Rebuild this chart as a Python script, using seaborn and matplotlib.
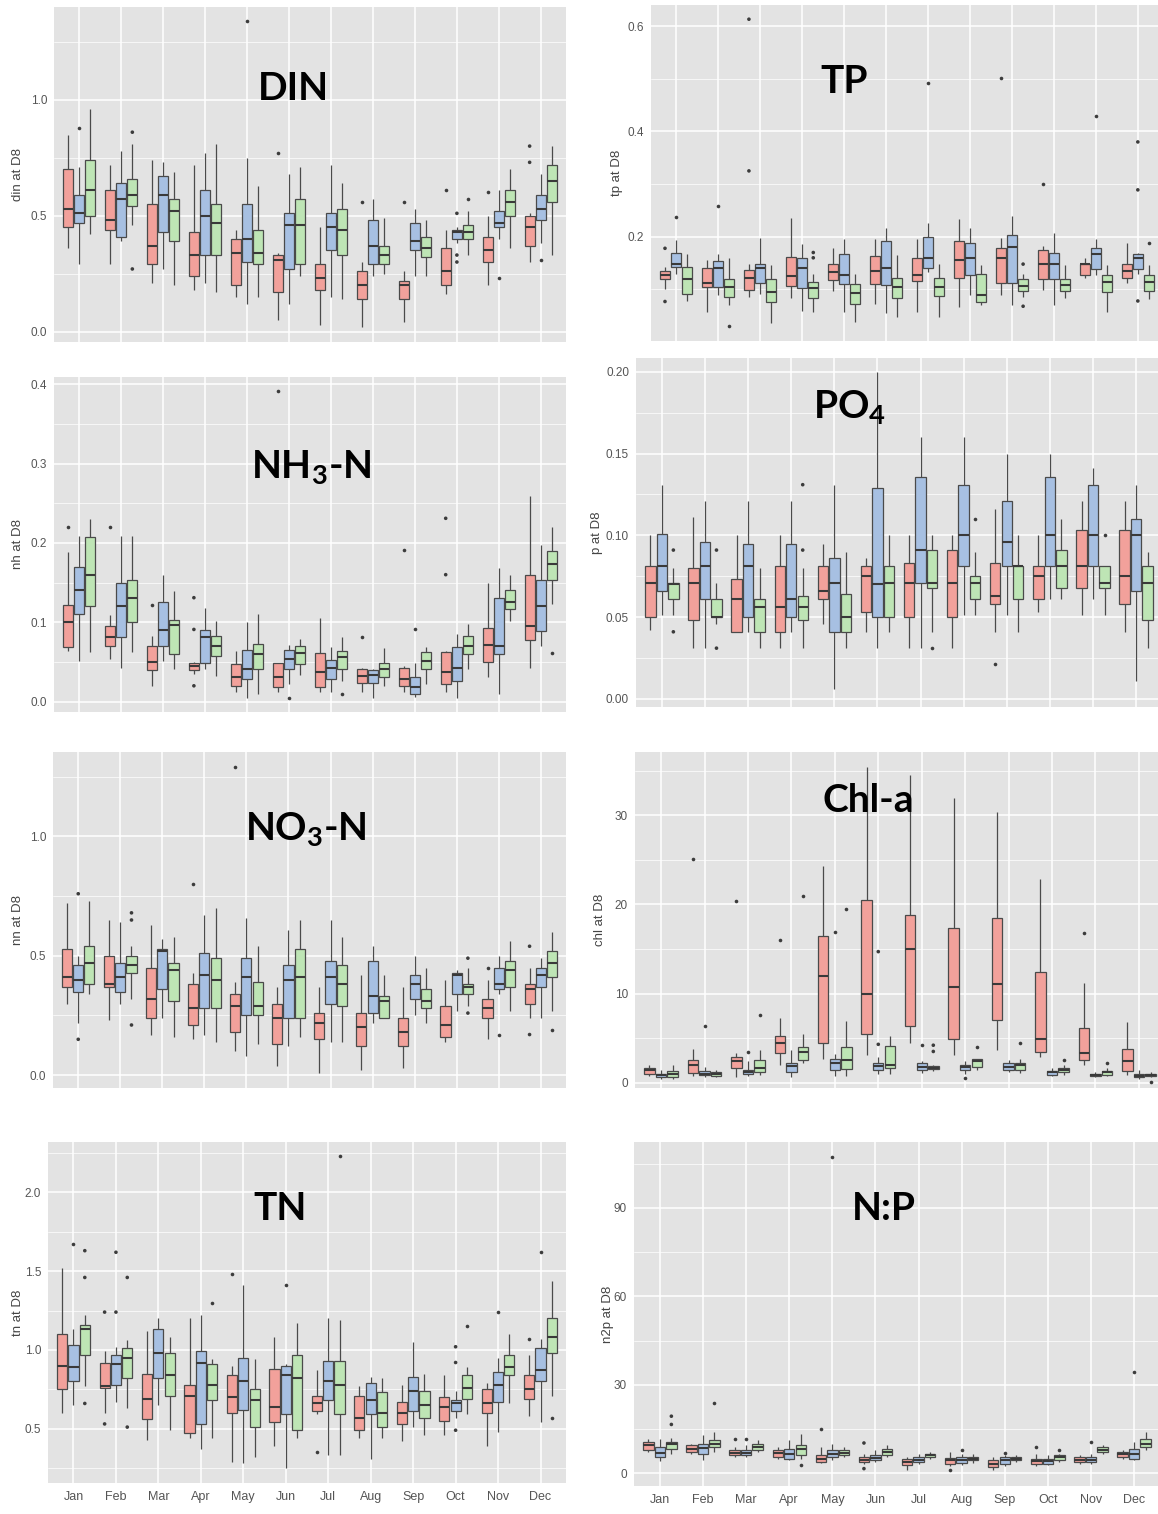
import matplotlib
matplotlib.use("Agg")
import matplotlib.pyplot as plt
import numpy as np
import pandas as pd
import seaborn as sns
from matplotlib.ticker import FixedLocator, MultipleLocator

# ---------------- data ----------------
MONTHS = ["Jan", "Feb", "Mar", "Apr", "May", "Jun", "Jul", "Aug", "Sep", "Oct", "Nov", "Dec"]
GROUPS = ["G1", "G2", "G3"]
# each box: (lower whisker, Q1, median, Q3, upper whisker)

DIN_R = [(0.36,0.45,0.53,0.70,0.85),(0.29,0.44,0.48,0.61,0.72),(0.21,0.29,0.37,0.55,0.74),(0.18,0.24,0.33,0.43,0.72),
         (0.15,0.20,0.34,0.40,0.44),(0.05,0.17,0.31,0.33,0.34),(0.03,0.18,0.23,0.29,0.45),(0.02,0.14,0.20,0.26,0.30),
         (0.04,0.14,0.20,0.22,0.26),(0.16,0.20,0.26,0.36,0.44),(0.20,0.30,0.35,0.41,0.50),(0.30,0.37,0.45,0.50,0.51)]
DIN_B = [(0.29,0.47,0.51,0.59,0.71),(0.39,0.41,0.57,0.64,0.78),(0.27,0.43,0.59,0.67,0.73),(0.21,0.33,0.50,0.61,0.77),
         (0.12,0.30,0.40,0.55,0.75),(0.12,0.27,0.46,0.51,0.68),(0.15,0.35,0.45,0.51,0.72),(0.24,0.29,0.37,0.48,0.57),
         (0.24,0.35,0.39,0.47,0.53),(0.38,0.40,0.43,0.44,0.45),(0.40,0.45,0.47,0.52,0.61),(0.38,0.48,0.53,0.59,0.68)]
DIN_G = [(0.42,0.50,0.61,0.74,0.96),(0.46,0.54,0.59,0.66,0.81),(0.20,0.39,0.52,0.57,0.69),(0.17,0.33,0.47,0.55,0.81),
         (0.15,0.29,0.34,0.44,0.63),(0.24,0.29,0.46,0.57,0.71),(0.14,0.33,0.44,0.53,0.64),(0.25,0.29,0.33,0.37,0.49),
         (0.24,0.32,0.36,0.41,0.48),(0.33,0.40,0.43,0.46,0.52),(0.36,0.50,0.56,0.61,0.70),(0.33,0.56,0.65,0.72,0.80)]
DIN_OUT = [("Jan","G2",0.88),("Feb","G3",0.86),("Feb","G3",0.27),("May","G2",1.34),("Jun","G1",0.77),
           ("Aug","G1",0.56),("Sep","G1",0.56),("Oct","G1",0.61),("Oct","G2",0.51),("Oct","G2",0.33),
           ("Oct","G2",0.30),("Oct","G3",0.57),("Nov","G1",0.60),("Nov","G2",0.23),("Dec","G1",0.80),
           ("Dec","G1",0.73),("Dec","G2",0.31)]

TP_R = [(0.100,0.119,0.128,0.135,0.143),(0.057,0.105,0.112,0.140,0.156),(0.086,0.098,0.121,0.137,0.149),
        (0.084,0.107,0.126,0.162,0.236),(0.097,0.117,0.133,0.148,0.178),(0.073,0.111,0.135,0.164,0.196),
        (0.057,0.116,0.128,0.159,0.196),(0.067,0.122,0.156,0.192,0.234),(0.089,0.112,0.159,0.179,0.197),
        (0.098,0.119,0.149,0.175,0.182),(0.121,0.127,0.148,0.149,0.159),(0.113,0.121,0.135,0.149,0.189)]
TP_B = [(0.130,0.143,0.148,0.170,0.194),(0.089,0.105,0.140,0.154,0.167),(0.092,0.112,0.140,0.148,0.197),
        (0.059,0.103,0.140,0.159,0.186),(0.057,0.111,0.128,0.168,0.196),(0.055,0.108,0.140,0.192,0.216),
        (0.133,0.140,0.159,0.200,0.227),(0.089,0.128,0.159,0.189,0.216),(0.070,0.112,0.181,0.204,0.239),
        (0.070,0.119,0.149,0.170,0.208),(0.127,0.138,0.167,0.178,0.196),(0.130,0.138,0.159,0.167,0.170)]
TP_G = [(0.078,0.092,0.119,0.143,0.168),(0.070,0.086,0.105,0.119,0.159),(0.037,0.077,0.095,0.119,0.146),
        (0.058,0.083,0.102,0.114,0.130),(0.038,0.073,0.094,0.111,0.130),(0.048,0.084,0.105,0.121,0.165),
        (0.048,0.087,0.105,0.121,0.148),(0.070,0.077,0.089,0.129,0.146),(0.086,0.097,0.107,0.119,0.130),
        (0.083,0.097,0.108,0.119,0.146),(0.057,0.095,0.114,0.127,0.146),(0.081,0.097,0.114,0.128,0.146)]
TP_OUT = [("Jan","G1",0.178),("Jan","G1",0.077),("Jan","G2",0.238),("Feb","G2",0.259),("Feb","G3",0.031),
          ("Mar","G1",0.613),("Mar","G1",0.325),("Apr","G3",0.170),("Apr","G3",0.160),("Jul","G2",0.491),
          ("Sep","G1",0.502),("Sep","G3",0.148),("Sep","G3",0.068),("Oct","G1",0.300),("Nov","G2",0.430),
          ("Dec","G2",0.380),("Dec","G2",0.289),("Dec","G2",0.078),("Dec","G3",0.189)]

NH_R = [(0.064,0.069,0.100,0.122,0.188),(0.054,0.070,0.082,0.095,0.109),(0.020,0.040,0.050,0.070,0.083),
        (0.035,0.040,0.045,0.049,0.050),(0.012,0.020,0.031,0.048,0.064),(0.012,0.019,0.031,0.049,0.049),
        (0.012,0.019,0.037,0.061,0.106),(0.012,0.023,0.032,0.041,0.042),(0.012,0.020,0.028,0.042,0.045),
        (0.012,0.022,0.037,0.063,0.064),(0.031,0.050,0.071,0.093,0.149),(0.042,0.078,0.095,0.159,0.259)]
NH_B = [(0.051,0.110,0.141,0.170,0.209),(0.042,0.081,0.120,0.149,0.209),(0.051,0.070,0.090,0.126,0.159),
        (0.041,0.049,0.082,0.090,0.118),(0.005,0.028,0.041,0.065,0.100),(0.022,0.041,0.054,0.065,0.072),
        (0.012,0.028,0.043,0.052,0.069),(0.005,0.023,0.033,0.040,0.041),(0.006,0.010,0.018,0.031,0.049),
        (0.005,0.026,0.042,0.069,0.085),(0.010,0.060,0.070,0.131,0.169),(0.070,0.089,0.120,0.153,0.198)]
NH_G = [(0.062,0.120,0.160,0.208,0.230),(0.062,0.100,0.131,0.153,0.209),(0.041,0.060,0.097,0.103,0.139),
        (0.032,0.058,0.070,0.083,0.102),(0.010,0.041,0.060,0.073,0.110),(0.033,0.048,0.061,0.070,0.079),
        (0.026,0.041,0.056,0.064,0.081),(0.020,0.031,0.041,0.049,0.068),(0.022,0.041,0.051,0.062,0.069),
        (0.041,0.060,0.070,0.083,0.098),(0.102,0.117,0.126,0.141,0.159),(0.123,0.153,0.174,0.190,0.220)]
NH_OUT = [("Jan","G1",0.220),("Feb","G1",0.220),("Mar","G1",0.122),("Apr","G1",0.131),("Apr","G1",0.091),
          ("Apr","G1",0.020),("Jun","G1",0.391),("Jun","G2",0.005),("Jul","G3",0.010),("Aug","G1",0.081),
          ("Sep","G1",0.191),("Sep","G2",0.091),("Oct","G1",0.231),("Oct","G1",0.160),("Dec","G3",0.061)]

P_R = [(0.042,0.050,0.071,0.081,0.100),(0.031,0.048,0.071,0.080,0.111),(0.041,0.041,0.061,0.073,0.100),
       (0.031,0.041,0.056,0.081,0.100),(0.046,0.061,0.066,0.081,0.095),(0.041,0.053,0.075,0.081,0.086),
       (0.031,0.050,0.071,0.083,0.100),(0.031,0.050,0.071,0.091,0.100),(0.041,0.058,0.063,0.083,0.116),
       (0.053,0.061,0.075,0.081,0.100),(0.051,0.068,0.081,0.103,0.121),(0.041,0.058,0.075,0.103,0.121)]
P_B = [(0.051,0.066,0.081,0.101,0.131),(0.031,0.061,0.081,0.096,0.121),(0.041,0.050,0.081,0.095,0.121),
       (0.041,0.050,0.061,0.095,0.121),(0.006,0.041,0.071,0.086,0.131),(0.031,0.050,0.070,0.129,0.200),
       (0.031,0.071,0.091,0.136,0.160),(0.051,0.081,0.100,0.131,0.160),(0.051,0.081,0.096,0.121,0.150),
       (0.061,0.081,0.100,0.136,0.150),(0.061,0.081,0.100,0.131,0.141),(0.011,0.066,0.100,0.110,0.131)]
P_G = [(0.051,0.061,0.070,0.071,0.080),(0.046,0.050,0.050,0.061,0.071),(0.031,0.041,0.056,0.061,0.080),
       (0.031,0.048,0.056,0.063,0.080),(0.031,0.041,0.050,0.064,0.090),(0.041,0.050,0.071,0.081,0.100),
       (0.041,0.068,0.071,0.091,0.100),(0.051,0.061,0.071,0.075,0.090),(0.041,0.061,0.081,0.081,0.100),
       (0.061,0.068,0.081,0.091,0.110),(0.051,0.068,0.071,0.081,0.081),(0.031,0.048,0.071,0.081,0.090)]
P_OUT = [("Jan","G3",0.091),("Jan","G3",0.041),("Feb","G3",0.091),("Feb","G3",0.031),("Apr","G3",0.131),
         ("Apr","G3",0.091),("Jul","G3",0.031),("Aug","G3",0.110),("Sep","G1",0.021),("Nov","G3",0.100)]

N_R = [(0.30,0.37,0.41,0.53,0.72),(0.23,0.37,0.38,0.50,0.65),(0.17,0.24,0.32,0.45,0.63),(0.15,0.21,0.28,0.38,0.43),
       (0.10,0.18,0.29,0.34,0.39),(0.04,0.13,0.24,0.30,0.37),(0.01,0.15,0.22,0.26,0.37),(0.02,0.12,0.20,0.26,0.42),
       (0.03,0.12,0.18,0.24,0.37),(0.14,0.16,0.21,0.29,0.40),(0.15,0.24,0.28,0.32,0.40),(0.24,0.30,0.36,0.38,0.45)]
N_B = [(0.22,0.35,0.40,0.46,0.50),(0.30,0.35,0.41,0.47,0.64),(0.24,0.36,0.52,0.53,0.57),(0.17,0.28,0.42,0.51,0.67),
       (0.08,0.25,0.41,0.49,0.66),(0.12,0.24,0.40,0.46,0.61),(0.14,0.30,0.41,0.48,0.65),(0.22,0.26,0.33,0.48,0.54),
       (0.25,0.32,0.38,0.42,0.50),(0.27,0.34,0.42,0.43,0.44),(0.34,0.36,0.38,0.45,0.50),(0.24,0.37,0.42,0.45,0.49)]
N_G = [(0.34,0.38,0.47,0.54,0.73),(0.32,0.43,0.46,0.50,0.54),(0.16,0.31,0.44,0.47,0.58),(0.14,0.28,0.40,0.49,0.70),
       (0.13,0.25,0.29,0.39,0.54),(0.16,0.24,0.41,0.53,0.65),(0.14,0.29,0.38,0.46,0.58),(0.24,0.24,0.31,0.33,0.42),
       (0.22,0.28,0.31,0.36,0.45),(0.29,0.34,0.37,0.38,0.45),(0.27,0.37,0.44,0.48,0.56),(0.27,0.41,0.47,0.52,0.60)]
N_OUT = [("Jan","G2",0.76),("Jan","G2",0.15),("Feb","G3",0.68),("Feb","G3",0.65),("Feb","G3",0.21),
         ("Apr","G1",0.80),("May","G1",1.29),("Oct","G3",0.49),("Oct","G3",0.26),("Nov","G1",0.45),
         ("Nov","G2",0.17),("Dec","G1",0.54),("Dec","G1",0.17),("Dec","G3",0.19)]

C_R = [(0.7,1.0,1.4,1.7,2.0),(0.7,1.1,2.0,2.5,3.8),(0.6,1.6,2.4,2.9,3.3),(2.0,3.3,4.4,5.2,7.2),
       (2.6,4.4,12.0,16.5,24.3),(3.1,5.5,9.9,20.5,35.4),(4.4,6.4,15.0,18.8,34.5),(3.1,4.9,10.7,17.4,31.9),
       (3.7,7.0,11.1,18.5,30.4),(2.9,3.4,4.9,12.4,22.8),(2.0,2.5,3.3,6.1,11.2),(0.9,1.3,2.4,3.8,6.8)]
C_B = [(0.4,0.6,0.9,1.0,1.4),(0.6,0.9,1.0,1.3,1.8),(0.7,1.0,1.2,1.4,2.4),(0.6,1.2,1.9,2.2,3.7),
       (0.7,1.4,2.2,2.7,3.2),(1.0,1.4,1.9,2.2,2.9),(1.1,1.4,1.8,2.2,2.4),(1.0,1.4,1.8,2.0,2.4),
       (1.2,1.4,1.8,2.2,2.5),(0.7,0.9,1.2,1.3,1.6),(0.6,0.8,0.9,1.0,1.2),(0.4,0.6,0.8,1.0,1.4)]
C_G = [(0.4,0.6,1.0,1.3,2.0),(0.6,0.7,1.0,1.2,1.4),(0.9,1.2,1.6,2.5,3.7),(2.2,2.5,3.4,4.0,5.5),
       (0.7,1.5,2.5,4.0,6.9),(1.0,1.6,2.0,4.1,5.2),(1.3,1.5,1.7,1.9,2.0),(1.4,1.8,2.4,2.6,2.7),
       (1.1,1.4,2.0,2.2,2.7),(0.9,1.2,1.4,1.6,2.0),(0.7,0.9,1.2,1.3,1.6),(0.6,0.7,0.9,1.0,1.2)]
C_OUT = [("Feb","G1",25.1),("Feb","G2",6.4),("Mar","G1",20.4),("Mar","G2",3.4),("Mar","G3",7.6),
         ("Apr","G1",16.0),("Apr","G3",20.9),("May","G2",16.9),("May","G3",19.5),("Jun","G2",14.7),
         ("Jun","G2",4.3),("Jul","G2",4.2),("Jul","G3",4.2),("Jul","G3",3.5),("Aug","G2",0.5),
         ("Aug","G3",4.0),("Sep","G3",4.4),("Oct","G3",2.5),("Nov","G1",16.8),("Nov","G3",2.2),("Dec","G3",0.1)]

T_R = [(0.60,0.75,0.90,1.10,1.52),(0.60,0.76,0.77,0.92,0.99),(0.43,0.56,0.69,0.85,1.12),(0.44,0.47,0.71,0.78,1.20),
       (0.29,0.60,0.70,0.84,0.90),(0.39,0.54,0.64,0.88,1.08),(0.59,0.61,0.66,0.71,0.87),(0.44,0.49,0.57,0.71,0.77),
       (0.42,0.53,0.60,0.67,0.78),(0.46,0.55,0.64,0.70,0.84),(0.39,0.60,0.66,0.75,0.79),(0.58,0.69,0.75,0.84,0.97)]
T_B = [(0.65,0.80,0.89,1.03,1.13),(0.67,0.78,0.91,0.97,1.02),(0.65,0.82,0.98,1.13,1.20),(0.37,0.53,0.92,0.99,1.22),
       (0.28,0.62,0.80,0.95,1.41),(0.25,0.59,0.84,0.90,0.91),(0.33,0.68,0.80,0.93,1.20),(0.31,0.59,0.68,0.79,0.83),
       (0.51,0.61,0.74,0.83,1.05),(0.57,0.61,0.66,0.68,0.74),(0.48,0.67,0.78,0.86,0.95),(0.54,0.80,0.87,1.01,1.07)]
T_G = [(0.77,0.97,1.13,1.16,1.22),(0.63,0.82,0.95,1.01,1.06),(0.49,0.71,0.84,0.98,1.08),(0.44,0.68,0.78,0.91,0.94),
       (0.32,0.51,0.68,0.75,0.94),(0.44,0.49,0.82,0.97,1.17),(0.33,0.59,0.78,0.93,1.19),(0.44,0.51,0.60,0.73,0.82),
       (0.46,0.57,0.65,0.74,0.85),(0.59,0.69,0.76,0.84,0.89),(0.66,0.84,0.89,0.97,1.10),(0.71,0.98,1.08,1.20,1.44)]
T_OUT = [("Jan","G2",1.67),("Jan","G3",1.63),("Jan","G3",1.46),("Jan","G3",0.66),("Feb","G1",1.24),
         ("Feb","G1",0.53),("Feb","G2",1.62),("Feb","G2",1.24),("Feb","G3",1.46),("Feb","G3",0.51),
         ("Apr","G3",1.30),("May","G1",1.48),("Jun","G2",1.41),("Jul","G1",0.35),("Jul","G3",2.23),
         ("Oct","G2",1.02),("Oct","G2",0.92),("Oct","G2",0.49),("Oct","G3",1.15),("Nov","G2",1.24),
         ("Dec","G1",1.07),("Dec","G2",1.62),("Dec","G3",0.57)]

NP_R = [(7.2,7.9,9.4,10.6,11.7),(6.6,7.2,8.3,9.4,10.0),(5.4,6.0,6.8,7.7,8.9),(4.9,5.4,6.8,7.7,8.9),
        (3.4,3.7,4.9,6.2,8.9),(3.0,3.7,4.5,5.4,6.6),(0.9,2.6,3.7,4.9,5.4),(2.3,3.0,4.3,5.1,7.2),
        (1.1,2.0,3.2,4.3,5.4),(2.3,3.2,4.0,4.9,6.6),(3.2,3.7,4.5,5.4,6.0),(4.9,5.4,6.6,7.2,7.7)]
NP_B = [(4.0,5.4,6.8,8.9,11.7),(4.5,6.6,8.6,10.0,12.8),(5.4,6.0,6.9,7.7,9.4),(4.3,4.9,6.6,8.3,11.1),
        (4.3,5.4,6.6,7.9,10.0),(3.7,4.3,5.2,6.0,7.7),(3.0,3.7,4.5,5.4,6.6),(2.6,3.4,4.3,5.4,6.6),
        (2.3,3.2,4.3,5.4,6.0),(2.6,3.2,4.0,4.9,6.0),(3.2,3.7,4.5,5.4,6.6),(4.3,4.9,6.6,8.3,10.6)]
NP_G = [(6.6,8.3,10.0,10.6,11.9),(7.2,8.9,10.0,11.1,14.0),(7.2,7.7,8.9,10.0,11.1),(4.9,6.0,8.3,9.4,13.4),
        (5.4,6.0,6.9,7.7,8.9),(5.4,6.0,7.2,8.3,9.4),(4.9,5.4,6.0,6.6,7.2),(3.4,4.3,4.9,5.4,6.6),
        (3.7,4.3,4.9,5.4,6.0),(3.7,4.5,5.4,6.0,6.6),(6.6,7.2,7.9,8.9,9.4),(7.7,8.9,10.0,11.4,14.0)]
NP_OUT = [("Jan","G3",19.3),("Jan","G3",16.5),("Feb","G3",23.8),("Mar","G1",11.5),("Mar","G2",11.5),
          ("Apr","G3",2.6),("May","G1",14.9),("May","G2",107.4),("Jun","G1",10.2),("Jun","G1",1.5),
          ("Aug","G1",0.9),("Aug","G2",7.9),("Sep","G2",6.8),("Oct","G1",8.9),("Oct","G3",7.9),
          ("Nov","G2",10.6),("Dec","G2",34.4)]

TITLES = ["DIN", "TP", "NH$_3$-N", "PO$_4$", "NO$_3$-N", "Chl-a", "TN", "N:P"]
YLABELS = ["din at D8", "tp at D8", "nh at D8", "p at D8", "nn at D8", "chl at D8", "tn at D8", "n2p at D8"]
YTICKS = [[0.0, 0.5, 1.0], [0.2, 0.4, 0.6], [0.0, 0.1, 0.2, 0.3, 0.4], [0.00, 0.05, 0.10, 0.15, 0.20],
          [0.0, 0.5, 1.0], [0, 10, 20, 30], [0.5, 1.0, 1.5, 2.0], [0, 30, 60, 90]]
YTICKLABELS = [["0.0", "0.5", "1.0"], ["0.2", "0.4", "0.6"], ["0.0", "0.1", "0.2", "0.3", "0.4"],
               ["0.00", "0.05", "0.10", "0.15", "0.20"], ["0.0", "0.5", "1.0"], ["0", "10", "20", "30"],
               ["0.5", "1.0", "1.5", "2.0"], ["0", "30", "60", "90"]]

PANEL_DATA = [(DIN_R, DIN_B, DIN_G, DIN_OUT), (TP_R, TP_B, TP_G, TP_OUT), (NH_R, NH_B, NH_G, NH_OUT),
              (P_R, P_B, P_G, P_OUT), (N_R, N_B, N_G, N_OUT), (C_R, C_B, C_G, C_OUT),
              (T_R, T_B, T_G, T_OUT), (NP_R, NP_B, NP_G, NP_OUT)]

# ---------------- layout / style ----------------
W, H = 1158, 1514
# axes boxes in pixels: left, top, right, bottom
BOXES = [(54, 7, 566, 342), (651, 5, 1163, 341), (54, 377, 566, 712), (636, 358, 1162, 707),
         (53, 752, 566, 1088), (635, 752, 1165, 1088), (48, 1142, 566, 1483), (634, 1142, 1160, 1486)]
YLIMS = [(-0.045, 1.40), (0.002, 0.640), (-0.013, 0.409), (-0.005, 0.2085), (-0.054, 1.354),
         (-0.6, 37.1), (0.155, 2.32), (-4.4, 112.4)]
MINOR = [0.25, 0.1, 0.05, 0.025, 0.25, 5, 0.25, 15]
YLAB_X = [18, 617, 18, 597, 18, 600, 18, 608]
TITLE_POS = [(293, 100), (844, 93), (311, 478), (850, 418), (306, 840), (868, 812), (280, 1220), (884, 1220)]

FILLS = {"G1": "#F2A19B", "G2": "#A7C0E2", "G3": "#BEE5B5"}
DOTS = {g: "#3C3C3C" for g in GROUPS}

sns.set_theme(style="darkgrid", rc={"axes.facecolor": "#E3E3E3", "grid.color": "white",
                                    "figure.facecolor": "white"})
plt.rcParams["font.family"] = ["Liberation Sans", "DejaVu Sans"]
plt.rcParams["mathtext.fontset"] = "custom"
plt.rcParams["mathtext.rm"] = "Lato:bold"
plt.rcParams["mathtext.default"] = "rm"


def box_frame(r, b, g):
    rows = []
    for grp, boxes in zip(GROUPS, (r, b, g)):
        for m, stats in zip(MONTHS, boxes):
            for v in sorted(stats):
                rows.append((m, grp, v))
    return pd.DataFrame(rows, columns=["month", "group", "value"])


def out_frame(out):
    return pd.DataFrame(out, columns=["month", "group", "value"])


fig = plt.figure(figsize=(W / 100, H / 100), dpi=100)

for i, (r, b, g, out) in enumerate(PANEL_DATA):
    l, t, rr, bb = BOXES[i]
    ax = fig.add_axes([l / W, 1 - bb / H, (rr - l) / W, (bb - t) / H])
    ax.set_axisbelow(True)
    sns.boxplot(data=box_frame(r, b, g), x="month", y="value", hue="group", order=MONTHS,
                hue_order=GROUPS, palette=FILLS, whis=(0, 100), showfliers=False, showcaps=False,
                width=0.8, gap=0.1, linewidth=0.9, linecolor="#4A4A4A", saturation=1,
                medianprops=dict(color="#3A3A3A", linewidth=1.5), legend=False, ax=ax)
    sns.stripplot(data=out_frame(out), x="month", y="value", hue="group", order=MONTHS,
                  hue_order=GROUPS, dodge=True, jitter=False, palette=DOTS, size=2.6,
                  linewidth=0, legend=False, ax=ax, zorder=4)
    ax.set_xlim(-0.6, 11.6)
    ax.set_ylim(*YLIMS[i])
    ax.yaxis.set_major_locator(FixedLocator(YTICKS[i]))
    ax.set_yticklabels(YTICKLABELS[i])
    ax.yaxis.set_minor_locator(MultipleLocator(MINOR[i]))
    ax.grid(which="major", axis="both", color="white", linewidth=1.1)
    ax.grid(which="minor", axis="y", color="white", linewidth=0.5)
    ax.xaxis.grid(True, which="major", color="white", linewidth=1.1)
    for s in ax.spines.values():
        s.set_visible(False)
    ax.tick_params(which="major", length=3, width=0.8, color="#444444", labelcolor="#555555",
                   labelsize=8.5, pad=2)
    ax.tick_params(which="minor", length=0)
    ax.set_xlabel("")
    ax.set_ylabel("")
    if i < 6:
        ax.tick_params(axis="x", labelbottom=False)
    else:
        ax.tick_params(axis="x", labelsize=9, pad=3)
    # y-axis title
    fig.text(YLAB_X[i] / W, 1 - ((t + bb) / 2) / H, YLABELS[i], rotation=90, ha="center",
             va="center", fontsize=9.5, color="#444444")
    # big panel title
    tx, ty = TITLE_POS[i]
    fig.text(tx / W, 1 - ty / H, TITLES[i], ha="center", va="baseline", fontsize=28,
             fontfamily="Lato", fontweight="bold", color="black")

fig.savefig("out.png", dpi=100)
